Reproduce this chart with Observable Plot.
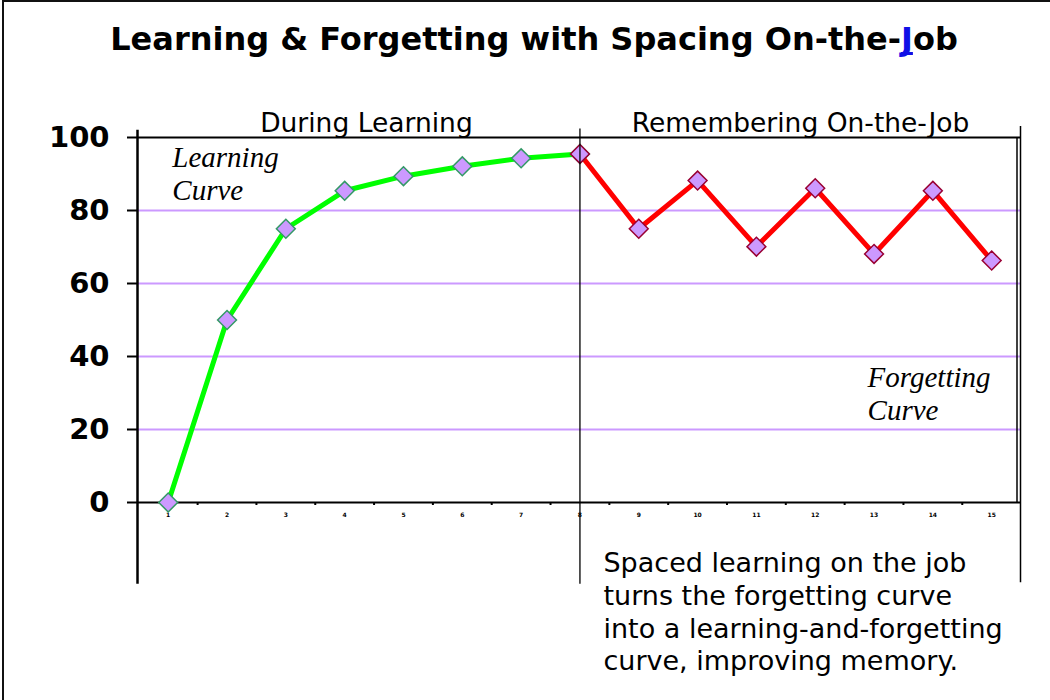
<!DOCTYPE html>
<html>
<head>
<meta charset="utf-8">
<script src="https://cdn.jsdelivr.net/npm/d3@7"></script>
<script src="https://cdn.jsdelivr.net/npm/@observablehq/plot@0.6"></script>
<style>
  html, body { margin: 0; padding: 0; background: #fff; overflow: hidden; width: 1050px; height: 700px; }
  #title { position: absolute; top: 23px; left: 0; width: 1068px; text-align: center;
           font: bold 32px "DejaVu Sans", Verdana, sans-serif; line-height: 32px; color: #000; }
  #title .j { color: #1010e6; text-decoration: underline; text-decoration-thickness: 3px;
              text-underline-offset: 2px; text-decoration-skip-ink: none; }
  #chart { position: absolute; top: 80px; left: 0; }
  #frame { position: absolute; top: 0; left: 2px; width: 1048px; height: 700px;
           border-top: 2px solid #111; border-left: 2px solid #111; box-sizing: border-box; pointer-events: none; }
</style>
</head>
<body>
<div id="title">Learning &amp; Forgetting with Spacing On-the-<span class="j">J</span>ob</div>
<div id="chart"></div>
<div id="frame"></div>
<script>
// ---- data ----
const sessions = [1, 2, 3, 4, 5, 6, 7, 8, 9, 10, 11, 12, 13, 14, 15];
const halfTicks = [1.5, 2.5, 3.5, 4.5, 5.5, 6.5, 7.5, 8.5, 9.5, 10.5, 11.5, 12.5, 13.5, 14.5];
const learningSessions = [1, 2, 3, 4, 5, 6, 7, 8];
const learningScores = [0, 50, 75, 85.4, 89.4, 92.1, 94.3, 95.5];
const rememberSessions = [8, 9, 10, 11, 12, 13, 14, 15];
const rememberScores = [95.5, 75, 88.2, 70.1, 86.1, 68.1, 85.4, 66.3];
const yTicks = [0, 20, 40, 60, 80, 100];
const gridValues = [20, 40, 60, 80];
const sectionLabels = ["During Learning", "Remembering On-the-Job"];
const sectionCenters = [4.37, 11.75];
const curveLabels = ["Learning\nCurve", "Forgetting\nCurve"];
const curveLabelX = [1.07, 12.89];
const curveLabelY = [98.4, 38.0];
const captionText = "Spaced learning on the job\nturns the forgetting curve\ninto a learning-and-forgetting\ncurve, improving memory.";

// ---- tables ----
const learning = learningSessions.map((s, i) => ({session: s, score: learningScores[i]}));
const remembering = rememberSessions.map((s, i) => ({session: s, score: rememberScores[i]}));
const sections = sectionLabels.map((t, i) => ({label: t, x: sectionCenters[i]}));
const curves = curveLabels.map((t, i) => ({label: t, x: curveLabelX[i], y: curveLabelY[i]}));

const xMin = 0.478, xMax = 15.49;

const chart = Plot.plot({
  width: 1050,
  height: 620,
  marginTop: 57,
  marginBottom: 198,
  marginLeft: 137,
  marginRight: 30,
  x: {domain: [xMin, xMax]},
  y: {domain: [0, 100]},
  style: {fontFamily: "DejaVu Sans", color: "black", background: "transparent", overflow: "visible"},
  marks: [
    Plot.gridY(gridValues, {stroke: "#cc99ff", strokeOpacity: 1, strokeWidth: 2}),
    Plot.ruleY([100], {stroke: "black", strokeWidth: 2}),
    Plot.ruleY([0], {stroke: "black", strokeWidth: 2}),
    Plot.axisY(yTicks, {tickSize: 10, tickPadding: 18, fontSize: 29, fontWeight: "bold", strokeWidth: 2, label: null}),
    Plot.axisX(sessions, {tickSize: 0, tickPadding: 10, fontSize: 6, fontWeight: "bold", label: null}),
    Plot.axisX(halfTicks, {tickSize: 3, strokeWidth: 2, tickFormat: () => "", label: null}),
    Plot.line(learning, {x: "session", y: "score", stroke: "#00ff00", strokeWidth: 5}),
    Plot.line(remembering, {x: "session", y: "score", stroke: "#ff0000", strokeWidth: 5}),
    Plot.dot(learning, {x: "session", y: "score", symbol: "diamond2", r: 8.5, fill: "#cc99ff", stroke: "#339966", strokeWidth: 1.5}),
    Plot.dot(remembering, {x: "session", y: "score", symbol: "diamond2", r: 8.5, fill: "#cc99ff", stroke: "#990033", strokeWidth: 1.5}),
    Plot.ruleX([xMin], {y1: -22.4, y2: 102, stroke: "black", strokeWidth: 2.5}),
    Plot.ruleX([8], {y1: -22.4, y2: 102.3, stroke: "black", strokeWidth: 1.3}),
    Plot.ruleX([xMax], {y1: -22, y2: 103, stroke: "black", strokeWidth: 1.5}),
    Plot.ruleX([xMax], {y1: 0, y2: 100, dx: -3.5, stroke: "black", strokeWidth: 1.5}),
    Plot.text(sections, {x: "x", text: "label", frameAnchor: "top", dy: -6, lineAnchor: "bottom", fontSize: 26.5, fill: "black"}),
    Plot.text(curves, {x: "x", y: "y", text: "label", textAnchor: "start", lineAnchor: "top", lineHeight: 1.14,
      fontFamily: "Liberation Serif", fontStyle: "italic", fontSize: 29, fill: "black"}),
    Plot.text([captionText], {x: 8.4, y: -12.8, text: d => d, textAnchor: "start", lineAnchor: "top", lineHeight: 1.21, fontSize: 27, fill: "black"})
  ]
});
document.getElementById("chart").appendChild(chart);
</script>
</body>
</html>
